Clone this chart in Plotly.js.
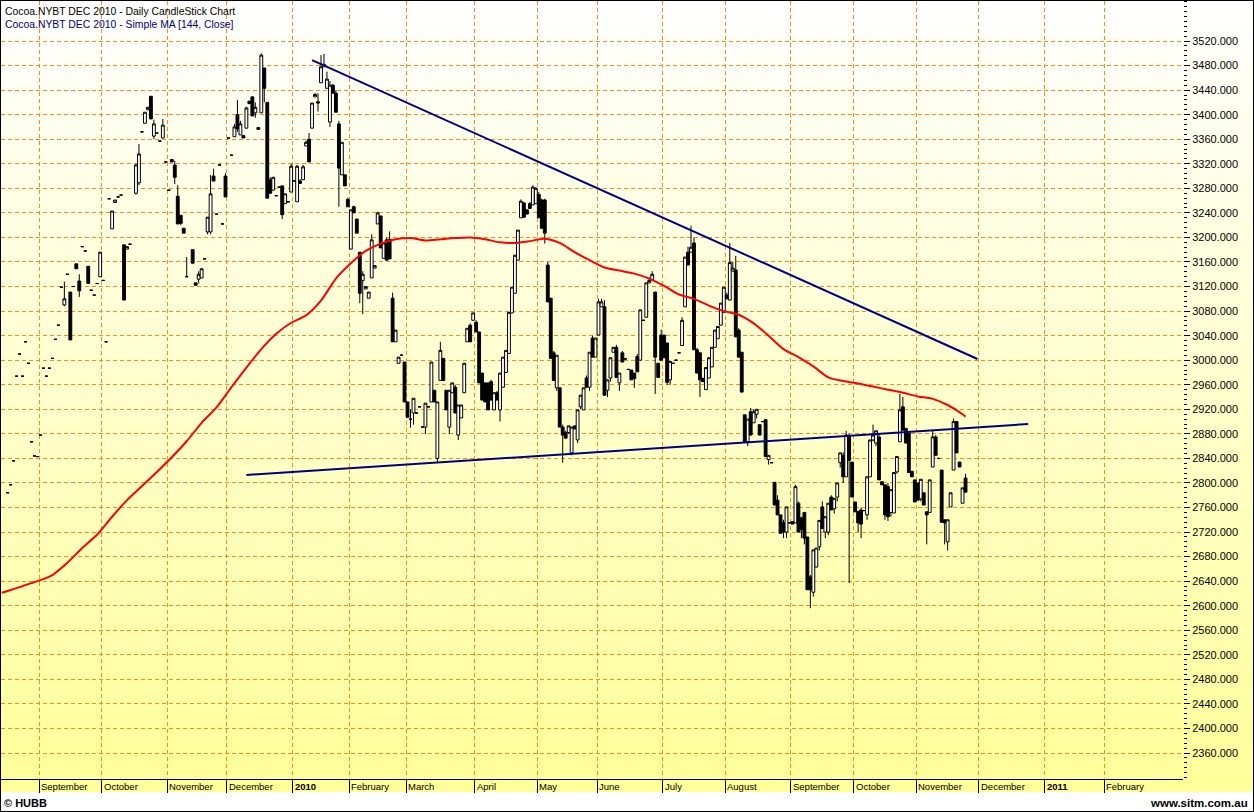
<!DOCTYPE html>
<html><head><meta charset="utf-8">
<script src="https://cdn.plot.ly/plotly-3.0.1.min.js"></script>
<style>
html,body{margin:0;padding:0;background:#fff;}
#wrap{position:relative;width:1254px;height:812px;background:linear-gradient(to bottom,#ffffff 0px,#ffff99 792px,#ffffff 792px,#ffffff 812px);}
#chart{position:absolute;left:0;top:0;width:1254px;height:812px;}
#frame{position:absolute;left:0;top:0;width:1252px;height:810px;border:1px solid #000;pointer-events:none;}
</style></head>
<body><div id="wrap"><div id="chart"></div><div id="frame"></div></div>
<script>
// ---------- data (daily OHLC, Cocoa NYBT DEC 2010, from 17 Aug 2009) ----------
const firstCandleDay = '2009-08-17';
const opens = [
2784,2797,2836,2974,3010,2974,3030,2995,2867,2844,
2843,2878,2987,2974,2987,3003,3034,3057,3119,3090,
3140,3111,3120,3157,3129,3185,3178,3153,3114,3106,
3125,3136,3130,3030,3263,3214,3257,3266,3269,3188,
3181,3189,null,3272,3289,3372,3386,3408,3430,3365,
3370,3357,3362,3323,3277,3327,3318,3267,3236,3215,
3136,null,3180,3126,3132,3134,3165,3209,3209,3300,
3238,3318,3222,3300,3362,3334,3364,3400,3367,3366,
3378,3422,3429,3403,3376,3403,3476,3420,3294,3277,
3268,3282,3284,3255,3258,3274,3292,3258,3292,3294,
3349,3360,3378,3429,3421,3452,3478,3443,3388,3448,
3435,3385,3302,3302,3262,3181,3250,3230,3176,3130,
3116,3101,3134,3150,3222,3235,3166,3196,3197,3101,
3030,2995,3008,2997,2932,2904,2914,2914,2924,2891,
2891,2924,2932,2951,2840,2967,3003,2951,2891,2947,
2956,2878,2906,2947,3030,3057,3065,3062,3046,2979,
2963,2963,2965,2919,2947,2919,2956,2980,3011,3077,
3109,3163,3232,3256,3245,3255,3253,3255,3270,3261,
3261,3155,3101,3012,2955,2955,2891,2882,2882,2849,
2893,2870,2924,2919,2971,2956,3036,3005,3041,3087,
3087,2951,2971,3013,3021,2963,3012,3002,2985,2984,
2979,3006,3000,3065,3070,3126,3131,3111,2995,3041,
3041,3028,2968,2995,3000,3012,3024,3087,3176,3176,
3191,3017,3012,2970,2952,2971,2989,3021,3035,3057,
3078,3106,3098,3145,3147,3049,3013,2911,2867,2916,
2898,2912,2895,2900,2903,2838,2833,2801,2772,2748,
2735,2720,2735,2737,2735,2767,2743,2752,2712,2647,
2622,2663,2696,2761,2720,2720,2777,2758,2777,2833,
2845,2810,2875,2834,2769,2753,2756,2755,2748,2810,
2870,2865,2875,2802,2797,2794,2752,2751,2818,2867,
2924,2889,2881,2819,2805,2800,2774,2784,2753,2752,
2826,2875,2840,2821,2740,2704,2761,2821,2900,2834,
2767,2808];
const highs = [
2784,2797,2836,2974,3010,2974,3030,2995,2867,2844,
2843,2878,2987,2974,2987,3003,3034,3057,3119,3128,
3140,3111,3120,3157,3140,3185,3178,3153,3114,3106,
3125,3176,3130,3030,3263,3243,3261,3266,3269,3188,
3185,3189,null,3320,3352,3372,3404,3412,3430,3392,
3370,3357,3393,3323,3277,3327,3325,3285,3236,3215,
3168,null,3180,3126,3145,3149,3165,3233,3302,3312,
3238,3318,3222,3305,3362,3334,3385,3424,3390,3366,
3413,3422,3430,3420,3379,3500,3476,3420,3298,3298,
3268,3282,3284,3271,3258,3320,3292,3318,3295,3318,
3358,3370,3419,3435,3435,3497,3499,3470,3455,3450,
3440,3390,3355,3302,3265,3245,3252,3230,3176,3145,
3120,3111,3205,3154,3242,3235,3191,3200,3210,3110,
3049,3005,3010,2997,2932,2920,2938,2914,2924,2891,
2930,2924,2997,2951,2932,3030,3003,2951,2951,2963,
2960,2927,2927,2995,3052,3060,3077,3065,3046,2979,
2963,2963,2968,2947,2950,2979,3005,3016,3078,3119,
3171,3212,3262,3258,3245,3258,3285,3282,3274,3263,
3263,3160,3101,3015,3008,2955,2895,2885,2893,2891,
2893,2919,2943,2955,2975,3013,3040,3036,3100,3100,
3098,2968,3004,3021,3025,2979,3015,3002,2985,2984,
2979,3010,3082,3065,3126,3135,3145,3111,2995,3050,
3041,3028,2998,2995,3000,3012,3070,3168,3185,3219,
3200,3020,3012,2972,2988,3004,3021,3049,3055,3093,
3119,3110,3191,3160,3170,3052,3013,2911,2904,2922,
2920,2920,2895,2900,2903,2845,2833,2801,2780,2748,
2740,2761,2735,2737,2797,2770,2745,2752,2712,2650,
2691,2694,2739,2770,2745,2767,2780,2775,2800,2849,
2850,2885,2880,2834,2769,2755,2760,2755,2810,2870,
2895,2885,2880,2802,2797,2800,2789,2817,2843,2945,
2940,2889,2881,2819,2805,2800,2806,2784,2753,2805,
2885,2878,2840,2821,2740,2740,2784,2905,2900,2834,
2792,2815];
const lows = [
2784,2797,2836,2974,3010,2974,3030,2995,2867,2844,
2843,2878,2987,2974,2987,3003,3034,3057,3119,3088,
3140,3033,3120,3149,3103,3185,3178,3125,3114,3106,
3125,3136,3130,3030,3263,3214,3257,3266,3269,3098,
3181,3189,null,3270,3285,3372,3386,3408,3393,3360,
3370,3357,3362,3323,3277,3323,3287,3222,3220,3207,
3136,null,3158,3122,3125,3134,3165,3205,3205,3292,
3238,3318,3222,3266,3362,3334,3364,3372,3367,3362,
3378,3418,3398,3395,3376,3403,3420,3264,3272,3277,
3268,3282,3230,3255,3258,3274,3292,3258,3288,3294,
3349,3323,3378,3429,3405,3452,3478,3443,3380,3435,
3404,3250,3302,3284,3250,3181,3240,3207,3093,3075,
3116,3101,3134,3150,3222,3183,3166,3163,3165,3030,
3030,2995,3008,2932,2907,2890,2895,2914,2924,2891,
2880,2924,2932,2932,2833,2967,2967,2919,2880,2947,
2914,2870,2906,2947,3030,3030,3065,3046,2963,2935,
2932,2919,2935,2919,2935,2900,2956,2980,3011,3077,
3109,3163,3232,3233,3238,3247,3253,3255,3232,3215,
3190,3095,3003,2967,2950,2891,2833,2873,2880,2845,
2888,2865,2920,2919,2956,2950,3005,3005,3041,3087,
2943,2940,2965,3013,2972,2950,2997,3002,2985,2968,
2955,2981,3000,3065,3070,3126,3131,2945,2972,3000,
3004,2960,2960,2995,3000,3012,3024,3087,3155,3176,
3017,2979,2940,2965,2952,2971,2989,3021,3035,3057,
3078,3100,3098,3145,3038,3005,2948,2867,2860,2878,
2898,2905,2878,2900,2843,2830,2833,2764,2748,2718,
2710,2710,2735,2733,2735,2720,2710,2700,2626,2596,
2615,2663,2690,2726,2710,2715,2756,2750,2770,2825,
2800,2810,2637,2777,2753,2720,2710,2755,2740,2810,
2868,2860,2805,2797,2740,2738,2745,2751,2815,2867,
2886,2865,2817,2810,2769,2772,2770,2764,2700,2752,
2826,2845,2840,2736,2700,2690,2761,2821,2849,2826,
2767,2785];
const closes = [
2784,2797,2836,2974,3010,2974,3030,2995,2867,2844,
2843,2878,2987,2974,2987,3003,3034,3057,3119,3100,
3140,3033,3120,3149,3113,3185,3178,3125,3114,3106,
3125,3176,3130,3030,3263,3243,3261,3266,3269,3098,
3185,3189,null,3318,3336,3372,3404,3412,3393,3385,
3370,3357,3383,3323,3277,3323,3298,3222,3223,3207,
3136,null,3158,3122,3140,3149,3165,3233,3271,3292,
3238,3318,3222,3266,3362,3334,3380,3377,3385,3362,
3411,3418,3398,3412,3379,3497,3443,3264,3272,3298,
3268,3282,3237,3271,3258,3316,3292,3316,3288,3315,
3355,3323,3419,3433,3419,3478,3482,3458,3448,3435,
3404,3313,3355,3284,3250,3245,3240,3207,3109,3140,
3120,3111,3196,3154,3240,3183,3191,3163,3165,3030,
3049,3005,3008,2932,2907,2904,2938,2914,2924,2891,
2930,2924,2997,2932,2932,3016,2967,2919,2951,2963,
2914,2927,2927,2995,3052,3030,3077,3046,2963,2935,
2932,2919,2935,2947,2935,2979,3005,3016,3078,3119,
3171,3212,3259,3233,3238,3247,3282,3280,3232,3215,
3207,3095,3003,2967,3008,2891,2878,2873,2893,2891,
2888,2919,2943,2955,2956,3013,3005,3036,3095,3095,
2943,2968,3004,3021,2972,2979,2997,3002,2985,2968,
2970,2981,3082,3065,3126,3130,3140,3005,2972,3000,
3004,2964,2998,2995,3000,3012,3065,3168,3155,3184,
3017,2979,2968,2965,2988,3004,3021,3049,3055,3093,
3119,3100,3159,3150,3038,3005,2948,2867,2904,2878,
2916,2920,2878,2900,2843,2845,2833,2764,2748,2718,
2720,2761,2735,2733,2794,2720,2724,2710,2626,2626,
2691,2694,2739,2726,2745,2767,2756,2775,2800,2849,
2810,2878,2837,2777,2753,2735,2733,2755,2810,2870,
2878,2885,2805,2797,2748,2745,2789,2817,2843,2919,
2886,2865,2817,2810,2769,2772,2806,2764,2748,2805,
2875,2845,2840,2736,2735,2740,2784,2900,2849,2826,
2792,2785];

// Simple MA [144, Close]: value at the left edge, then one reading every 5 sessions
const maLeadDates = ['2009-08-13 12:00'];
const maLeadValues = [2621];
const maValues = [2624,2632,2640,2650,2670,2694,2716,2745,2772,2795,
2818,2842,2868,2898,2923,2956,2988,3018,3043,3061,
3073,3097,3133,3158,3178,3190,3197,3199,3195,3197,
3199,3200,3197,3192,3191,3194,3198,3191,3176,3163,
3151,3146,3141,3133,3121,3107,3100,3089,3080,3074,
3060,3040,3018,3005,2990,2972,2966,2962,2957,2952,
2947,2941,2937,2927,2912,2908];

// Trend lines
const trendTopDates = ['2010-01-12 12:00','2010-11-30 12:00'];
const trendTopValues = [3489, 3002];
const trendLowDates = ['2009-12-09 12:00','2010-12-23 12:00'];
const trendLowValues = [2813, 2896];

// Axis labels
const monthLabels = ['September','October','November','December','<b>2010</b>','February','March','April','May','June','July','August','September','October','November','December','<b>2011</b>','February'];
const firstLabelMonth = '2009-09';
const yTickValues = [];
for (let v = 2360; v <= 3520; v += 40) yTickValues.push(v);

const holidays = ['2009-09-07','2009-11-26','2009-12-25','2010-01-01','2010-01-18','2010-02-15',
'2010-04-02','2010-05-31','2010-07-05','2010-09-06','2010-11-25','2010-12-24','2011-01-17','2011-02-21'];

// ---------- build trading calendar ----------
function ymd(d){ return d.toISOString().slice(0,10); }
function tradingDays(from, to){
  const out=[]; const d=new Date(from+'T00:00:00Z'); const end=new Date(to+'T00:00:00Z');
  while(d<=end){ const w=d.getUTCDay(); const s=ymd(d);
    if(w!==0 && w!==6 && holidays.indexOf(s)<0) out.push(s);
    d.setUTCDate(d.getUTCDate()+1); }
  return out;
}
const days = tradingDays('2009-08-03','2011-04-29');
const i0 = days.indexOf(firstCandleDay);
const candleDates = closes.map((_,i)=>days[i0+i]+' 12:00');
const n = closes.length;
const maDates = maLeadDates.concat(maValues.map((_,k)=>candleDates[Math.min(k*5, n-1)]));
const maAll = maLeadValues.concat(maValues);

// month starts (first trading day of each month)
const monthStarts = [];
for (const s of days){ const m = s.slice(0,7);
  if (m >= firstLabelMonth && monthStarts.length < monthLabels.length &&
      (monthStarts.length===0 || m !== monthStarts[monthStarts.length-1].slice(0,7))) monthStarts.push(s);
}

function dateAt(f){ const i=Math.floor(f); const fr=f-i;
  const ms = Date.parse(days[i]+'T00:00:00Z') + fr*86400000;
  return new Date(ms).toISOString().replace('T',' ').slice(0,19); }
const sepIdx = days.indexOf('2009-09-01');
const pxPerDay = 2.984;
const xRange = [dateAt(sepIdx - 38/pxPerDay), dateAt(sepIdx + 1144/pxPerDay)];

const GRID = '#ff8c1a';
const FONT = 'Liberation Sans, Arial, sans-serif';

const traces = [
 { type:'candlestick', x:candleDates, open:opens, high:highs, low:lows, close:closes,
   increasing:{line:{color:'#000000', width:1}, fillcolor:'#ffffff'},
   decreasing:{line:{color:'#000000', width:1}, fillcolor:'#000000'},
   whiskerwidth:0, hoverinfo:'skip' },
 { type:'scatter', mode:'lines', x:maDates, y:maAll, line:{color:'#ff0000', width:2, shape:'spline', smoothing:0.8}, hoverinfo:'skip' },
 { type:'scatter', mode:'lines', x:trendTopDates, y:trendTopValues, line:{color:'#000080', width:2}, hoverinfo:'skip' },
 { type:'scatter', mode:'lines', x:trendLowDates, y:trendLowValues, line:{color:'#000080', width:2}, hoverinfo:'skip' }
];

const annotations = monthStarts.map((d,k)=>({
  x:d, xref:'x', y:0, yref:'paper', xanchor:'left', yanchor:'top', xshift:0, yshift:0,
  text:monthLabels[k], showarrow:false, font:{family:FONT, size:9.5, color:'#000'}
}));
annotations.push(
 {x:0, xref:'paper', y:1, yref:'paper', xanchor:'left', yanchor:'top', xshift:2, yshift:-3,
  text:'Cocoa.NYBT DEC 2010 - Daily CandleStick Chart', showarrow:false, font:{family:FONT, size:10.4, color:'#000000'}},
 {x:0, xref:'paper', y:1, yref:'paper', xanchor:'left', yanchor:'top', xshift:2, yshift:-16,
  text:'Cocoa.NYBT DEC 2010 - Simple MA [144, Close]', showarrow:false, font:{family:FONT, size:10.4, color:'#000080'}},
 {x:0, xref:'paper', y:0, yref:'paper', xanchor:'left', yanchor:'middle', xshift:1, yshift:-24,
  text:'<b>© HUBB</b>', showarrow:false, font:{family:FONT, size:11, color:'#000'}},
 {x:1, xref:'paper', y:0, yref:'paper', xanchor:'right', yanchor:'middle', xshift:67, yshift:-24,
  text:'<b>www.sitm.com.au</b>', showarrow:false, font:{family:FONT, size:11.5, color:'#000'}}
);

const layout = {
  width:1254, height:812, margin:{l:1, r:71, t:1, b:33},
  paper_bgcolor:'rgba(0,0,0,0)', plot_bgcolor:'rgba(0,0,0,0)',
  showlegend:false, hovermode:false, boxgap:0.05, boxgroupgap:0,
  xaxis:{ type:'date', range:xRange,
    rangebreaks:[{bounds:['sat','mon']},{values:holidays}],
    tickmode:'array', tickvals:monthStarts, showticklabels:false,
    ticks:'outside', ticklen:13, tickwidth:1, tickcolor:'#000',
    showgrid:true, gridcolor:GRID, gridwidth:1, griddash:'4px,3px',
    showline:true, linecolor:'#000', linewidth:1, zeroline:false,
    rangeslider:{visible:false}, fixedrange:true },
  yaxis:{ side:'right', range:[2317.7, 3585.2], tickmode:'array', tickvals:yTickValues,
    tickformat:'.3f', ticks:'outside', ticklen:6, tickwidth:1, tickcolor:'#000',
    showgrid:true, gridcolor:GRID, gridwidth:1, griddash:'4px,3px',
    showline:false, zeroline:false, fixedrange:true,
    tickfont:{family:FONT, size:11, color:'#000'},
    minor:{tickmode:'linear', tick0:0, dtick:8, ticks:'outside', ticklen:3, tickwidth:1, tickcolor:'#000', showgrid:false} },
  annotations:annotations
};

Plotly.newPlot('chart', traces, layout, {displayModeBar:false, staticPlot:true});
</script>
</body></html>
